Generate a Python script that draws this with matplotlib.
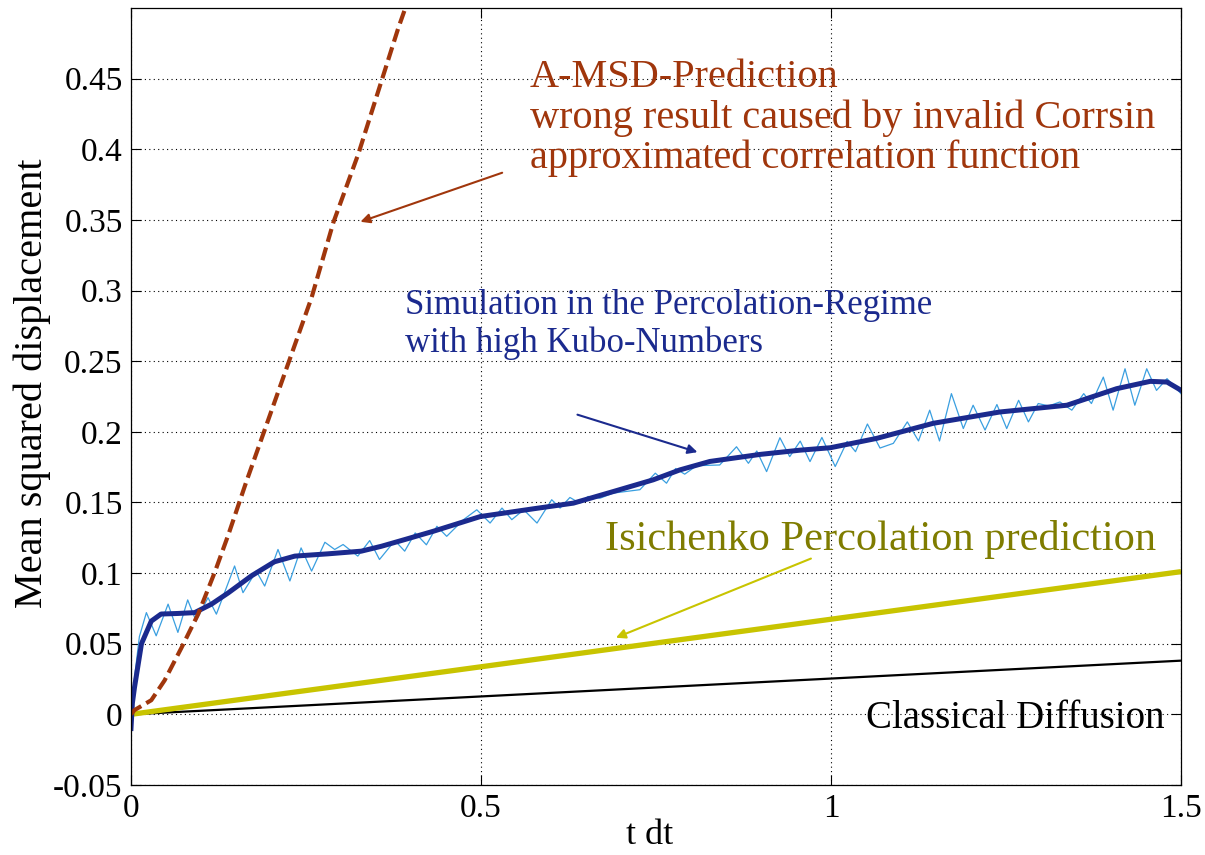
import numpy as np
import matplotlib as mpl
import matplotlib.pyplot as plt
mpl.use('Agg')

plt.rcParams['font.family'] = ['Liberation Serif', 'DejaVu Serif']

# simulation, smoothed (thick blue)
sim_x = [0, 0.002, 0.005, 0.015, 0.029, 0.043, 0.067, 0.091, 0.115, 0.139, 0.172, 0.205,
         0.234, 0.281, 0.329, 0.358, 0.391, 0.432, 0.499, 0.575, 0.632, 0.689, 0.746,
         0.784, 0.827, 0.899, 0.956, 0.999, 1.065, 1.146, 1.241, 1.337, 1.408, 1.456,
         1.480, 1.500]
sim_y = [-0.010, 0.008, 0.019, 0.050, 0.066, 0.071, 0.0714, 0.072, 0.078, 0.086, 0.098,
         0.108, 0.112, 0.1136, 0.1155, 0.119, 0.1237, 0.1296, 0.140, 0.1455, 0.1495,
         0.1577, 0.166, 0.173, 0.179, 0.184, 0.187, 0.1887, 0.1953, 0.206, 0.214, 0.2188,
         0.2305, 0.2357, 0.2352, 0.2294]

# simulation, raw (thin light blue) - read at peaks / troughs
raw_x = [0, 0.006, 0.012, 0.022, 0.036, 0.053, 0.067, 0.081, 0.093, 0.110, 0.122, 0.148,
         0.160, 0.179, 0.191, 0.210, 0.227, 0.243, 0.258, 0.277, 0.291, 0.303, 0.324,
         0.341, 0.355, 0.377, 0.391, 0.406, 0.422, 0.437, 0.451, 0.475, 0.494, 0.513,
         0.530, 0.544, 0.561, 0.580, 0.601, 0.613, 0.627, 0.641, 0.653, 0.670, 0.689,
         0.727, 0.749, 0.765, 0.778, 0.791, 0.808, 0.841, 0.865, 0.882, 0.894, 0.908,
         0.927, 0.941, 0.956, 0.970, 0.987, 1.006, 1.023, 1.035, 1.052, 1.070, 1.089,
         1.109, 1.125, 1.141, 1.155, 1.172, 1.189, 1.203, 1.220, 1.237, 1.251, 1.268,
         1.282, 1.296, 1.311, 1.327, 1.344, 1.361, 1.372, 1.389, 1.403, 1.420, 1.434,
         1.451, 1.465, 1.480, 1.500]
raw_y = [0, 0.030, 0.055, 0.072, 0.0556, 0.078, 0.058, 0.081, 0.066, 0.0826, 0.0709, 0.105,
         0.0861, 0.1014, 0.0908, 0.1167, 0.0944, 0.1178, 0.1014, 0.1218, 0.1167, 0.1202,
         0.112, 0.123, 0.1096, 0.123, 0.1155, 0.1284, 0.120, 0.1331, 0.126, 0.1378,
         0.1448, 0.1354, 0.146, 0.1378, 0.1448, 0.1354, 0.1519, 0.146, 0.1535, 0.1495,
         0.1542, 0.153, 0.1566, 0.159, 0.1707, 0.1636, 0.174, 0.170, 0.176, 0.1765,
         0.1894, 0.1777, 0.1864, 0.1718, 0.1958, 0.1824, 0.1934, 0.1789, 0.196, 0.1754,
         0.1932, 0.1859, 0.2055, 0.1885, 0.1918, 0.207, 0.1935, 0.2153, 0.1935, 0.227,
         0.2023, 0.2188, 0.2012, 0.2193, 0.2023, 0.2223, 0.207, 0.220, 0.2183, 0.2211,
         0.2153, 0.227, 0.220, 0.2387, 0.2153, 0.2446, 0.2188, 0.2446, 0.2293, 0.2376,
         0.227]

# A-MSD prediction (dashed)
amsd_x = [0, 0.005, 0.029, 0.048, 0.072, 0.096, 0.120, 0.139, 0.165, 0.258, 0.289, 0.325,
          0.382, 0.392]
amsd_y = [0, 0.003, 0.010, 0.024, 0.047, 0.071, 0.101, 0.127, 0.165, 0.295, 0.348, 0.397,
          0.486, 0.500]

# straight lines
isi_x = [0, 1.5]
isi_y = [0, 0.101]
cls_x = [0, 1.5]
cls_y = [0, 0.038]

red = '#A0360C'
navy = '#1B2A8E'
light = '#3A9FE0'
yel = '#C8C400'
olive = '#7F7C00'

fig = plt.figure(figsize=(12.05, 8.55), dpi=100)
ax = fig.add_axes([0.1087, 0.0819, 0.8714, 0.9088])

ax.plot(cls_x, cls_y, color='black', lw=1.6)
ax.plot(isi_x, isi_y, color=yel, lw=3.8, solid_capstyle='butt')
ax.plot(raw_x, raw_y, color=light, lw=0.9)
ax.plot(sim_x, sim_y, color=navy, lw=3.6, solid_joinstyle='round')
ax.plot(amsd_x, amsd_y, color=red, lw=3.0, ls=(0, (3.2, 1.4)))

ax.set_xlim(0, 1.5)
ax.set_ylim(-0.05, 0.5)
ax.set_xticks([0, 0.5, 1, 1.5])
ax.set_xticklabels(['0', '0.5', '1', '1.5'])
yt = [-0.05, 0, 0.05, 0.1, 0.15, 0.2, 0.25, 0.3, 0.35, 0.4, 0.45]
ax.set_yticks(yt)
ax.set_yticklabels(['-0.05', '0', '0.05', '0.1', '0.15', '0.2', '0.25', '0.3', '0.35', '0.4', '0.45'])
ax.tick_params(direction='in', top=True, right=True, length=7, width=0.8,
               labelsize=24, pad=6)
ax.grid(True, color='black', ls=(0, (1, 3)), lw=0.8)
for s in ax.spines.values():
    s.set_linewidth(0.9)

ax.set_xlabel('t dt', fontsize=26, va='center')
ax.xaxis.set_label_coords(0.494, -0.065)
ax.set_ylabel('Mean squared displacement', fontsize=29, va='center')
ax.yaxis.set_label_coords(-0.094, 0.517)

ax.text(0.570, 0.422, 'A-MSD-Prediction\nwrong result caused by invalid Corrsin\napproximated correlation function',
        color=red, fontsize=29, ha='left', va='center', linespacing=1.1)
ax.annotate('', xy=(0.324, 0.348), xytext=(0.534, 0.384),
            arrowprops=dict(arrowstyle='-|>', color=red, lw=1.5, mutation_scale=14))

ax.text(0.391, 0.276, 'Simulation in the Percolation-Regime\nwith high Kubo-Numbers',
        color=navy, fontsize=25, ha='left', va='center', linespacing=1.15)
ax.annotate('', xy=(0.813, 0.185), xytext=(0.634, 0.2127),
            arrowprops=dict(arrowstyle='-|>', color=navy, lw=1.5, mutation_scale=14))

ax.text(0.677, 0.1235, 'Isichenko Percolation prediction', color=olive, fontsize=30.5,
        ha='left', va='center')
ax.annotate('', xy=(0.689, 0.0535), xytext=(0.975, 0.111),
            arrowprops=dict(arrowstyle='-|>', color=yel, lw=1.5, mutation_scale=14))

ax.text(1.477, -0.003, 'Classical Diffusion', color='black', fontsize=28,
        ha='right', va='center')

fig.savefig('out.png', dpi=100)
